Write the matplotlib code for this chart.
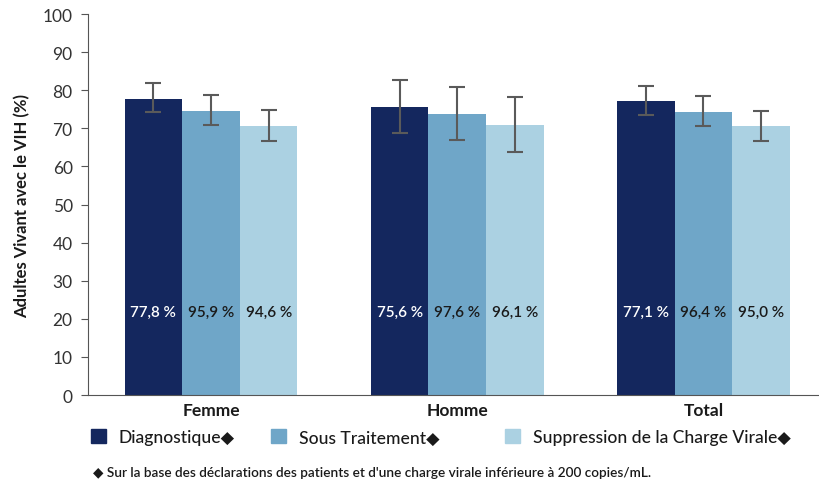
#!/usr/bin/env python3
# -*- coding: utf-8 -*-
"""
Adults living with HIV: diagnosed / treated / viral suppression cascade.
"""

import numpy as np
import matplotlib
matplotlib.use("Agg")
import matplotlib.pyplot as plt
from matplotlib import patches as mpatches

plt.rcParams['font.family'] = ['Lato', 'DejaVu Sans']

GROUPS = ["Femme", "Homme", "Total"]
SERIES = ["Diagnostique", "Sous Traitement", "Suppression de la Charge Virale"]

# bar heights (% of adults living with HIV)
diagnostique = [77.8, 75.6, 77.1]
traitement = [74.6, 73.8, 74.3]
suppression = [70.6, 70.9, 70.6]

# confidence intervals
ci_low = [[74.2, 68.8, 73.4], [70.8, 66.9, 70.7], [66.6, 63.8, 66.8]]
ci_high = [[81.9, 82.7, 81.2], [78.8, 80.9, 78.4], [74.9, 78.3, 74.6]]

# labels printed inside the bars (the two lighter series are conditional %)
labels_diag = ["77,8 %", "75,6 %", "77,1 %"]
labels_trait = ["95,9 %", "97,6 %", "96,4 %"]
labels_supp = ["94,6 %", "96,1 %", "95,0 %"]

COLORS = ["#14275e", "#6fa6c8", "#abd1e2"]
TEXT_COLORS = ["white", "#1a1a1a", "#1a1a1a"]
FOOTNOTE = "\u25c6 Sur la base des déclarations des patients et d'une charge virale inférieure à 200 copies/mL."


def main():
    fig = plt.figure(figsize=(8.19, 4.85), dpi=100)
    ax = fig.add_axes([0.1074, 0.1835, 0.8926, 0.7855])

    values = [diagnostique, traitement, suppression]
    bar_labels = [labels_diag, labels_trait, labels_supp]
    x = np.arange(len(GROUPS))
    width = 0.234
    for j, vals in enumerate(values):
        pos = x + (j - 1) * width
        vals = np.array(vals)
        lo = vals - np.array(ci_low[j])
        hi = np.array(ci_high[j]) - vals
        ax.bar(pos, vals, width=width, color=COLORS[j], zorder=2)
        ax.errorbar(pos, vals, yerr=[lo, hi], fmt='none', ecolor='#5a5a5a',
                    elinewidth=1.5, capsize=6, capthick=1.5, zorder=3)
        for p, lab in zip(pos, bar_labels[j]):
            ax.text(p, 21.8, lab, ha='center', va='center', fontsize=11,
                    color=TEXT_COLORS[j], fontweight='semibold')

    ax.set_xlim(-0.5, 2.47)
    ax.set_ylim(0, 100)
    ax.set_yticks(np.arange(0, 101, 10))
    ax.set_xticks(x)
    ax.set_xticklabels(GROUPS, fontsize=12.5, fontweight='bold', color='#1a1a1a')
    ax.tick_params(axis='x', length=0, pad=5)
    ax.tick_params(axis='y', length=5, width=0.8, labelsize=12.5,
                   labelcolor='#333333', color='#555555', pad=6)
    for s in ['top', 'right']:
        ax.spines[s].set_visible(False)
    for s in ['left', 'bottom']:
        ax.spines[s].set_color('#555555')
        ax.spines[s].set_linewidth(0.8)
    ax.set_ylabel("Adultes Vivant avec le VIH (%)", fontsize=12,
                  fontweight='bold', color='#1a1a1a', labelpad=9)

    # legend entries, one per series
    xs = [0.111, 0.331, 0.617]
    for j, name in enumerate(SERIES):
        leg = fig.legend(handles=[mpatches.Patch(color=COLORS[j])],
                         labels=[name + "\u25c6"], loc='center left',
                         bbox_to_anchor=(xs[j], 0.096), frameon=False,
                         fontsize=12.6, handlelength=0.85, handleheight=0.85,
                         handletextpad=0.75, borderaxespad=0, borderpad=0)
        for t in leg.get_texts():
            t.set_color('#1a1a1a')
            t.set_fontweight('medium')

    fig.text(0.113, 0.025, FOOTNOTE, fontsize=9.8, color='#1a1a1a',
             fontweight='semibold', va='center')

    fig.savefig("out.png", dpi=100)


if __name__ == "__main__":
    main()
